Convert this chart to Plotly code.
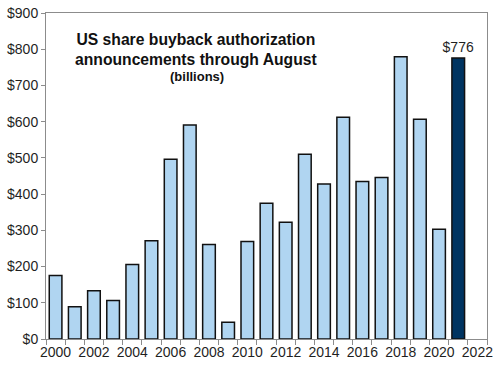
import plotly.graph_objects as go

years = list(range(2000, 2022))
values = [175, 89, 133, 106, 206, 271, 496, 591, 261, 46, 269, 375, 322, 510,
          428, 612, 435, 446, 779, 607, 303, 776]
highlight_year = 2021
tick_labels = [str(y) for y in range(2000, 2023, 2)]
title_lines = ["US share buyback authorization", "announcements through August"]
subtitle = "(billions)"

colors = ["#003461" if y == highlight_year else "#B0D5F1" for y in years]
texts = ["$%d" % v if y == highlight_year else "" for y, v in zip(years, values)]

fig = go.Figure()
fig.add_trace(go.Bar(
    x=years, y=values,
    marker=dict(color=colors, line=dict(color="#111111", width=1.5)),
    text=texts, textposition="outside", constraintext="none",
    textfont=dict(family="Arial, Liberation Sans", size=14, color="#1f1f1f"),
    cliponaxis=False,
))

fig.update_layout(
    width=500, height=373,
    margin=dict(l=46, r=13, t=13, b=34, autoexpand=False),
    plot_bgcolor="white", paper_bgcolor="white",
    bargap=0.34,
    showlegend=False,
    font=dict(family="Arial, Liberation Sans", size=14, color="#1f1f1f"),
)

fig.update_xaxes(
    range=[1999.5, 2022.5],
    tickmode="array",
    tickvals=list(range(2000, 2023, 2)),
    ticktext=tick_labels,
    ticks="",
    showgrid=False, automargin=False,
    showline=True, linecolor="#8c8c8c", linewidth=1, mirror=True,
    minor=dict(tick0=1999.5, dtick=1, ticks="outside", ticklen=5,
               tickcolor="#8c8c8c", showgrid=False),
    tickfont=dict(size=14),
    ticklabeloverflow="allow",
)
fig.update_yaxes(
    range=[0, 900], dtick=100, tickprefix="$",
    ticks="outside", ticklen=4, tickcolor="#8c8c8c",
    showgrid=False, zeroline=False, automargin=False,
    showline=True, linecolor="#8c8c8c", linewidth=1, mirror=True,
    tickfont=dict(size=14),
)

fig.add_annotation(
    x=2007.3, y=800, xref="x", yref="y",
    text="<b>" + "<br>".join(title_lines) + "</b>",
    showarrow=False, font=dict(size=15.7, color="#111111"),
    align="center",
)
fig.add_annotation(
    x=2007.4, y=725, xref="x", yref="y",
    text="<b>" + subtitle + "</b>",
    showarrow=False, font=dict(size=13, color="#111111"),
)

fig.write_html("out.html", config={"displayModeBar": False},
               post_script="document.body.style.margin='0';")
